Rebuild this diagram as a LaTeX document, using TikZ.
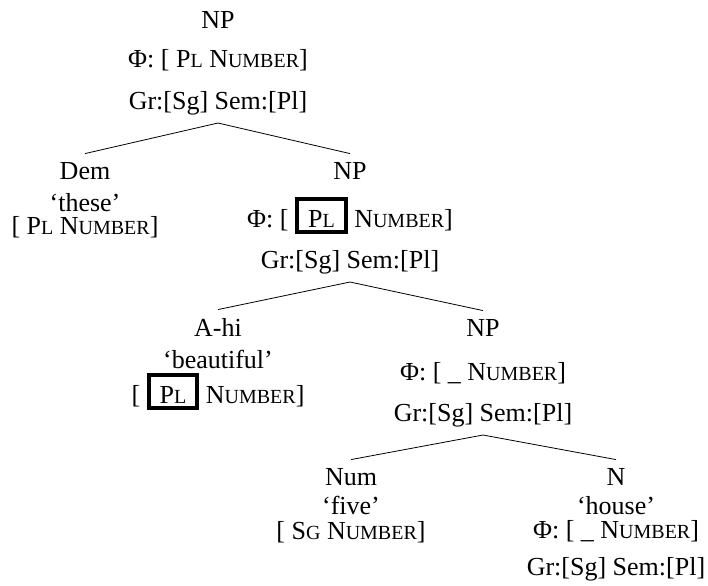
\documentclass[tikz,border=0pt]{standalone}
\usepackage{fontspec}
\setmainfont{Liberation Serif}
\newcommand\fsc[2]{#1{\fontsize{10}{12}\selectfont #2}}
\newcommand\pbox[1]{{\setlength\fboxrule{2pt}\setlength\fboxsep{0pt}\fbox{\rule[-1.5pt]{0pt}{14.5pt}\hspace{4.5pt}#1\hspace{4.5pt}}}}
\tikzset{lbl/.style={inner sep=4pt, anchor=base, font=\fontsize{13}{15}\selectfont}}

\begin{document}
\begin{tikzpicture}[x=0.5pt, y=-0.5pt]
	\useasboundingbox (0,0) rectangle (708,585);
	\node[lbl] (np1) at (218,28) {NP};
	\node[lbl] (np1phi) at (218,67) {Φ: [ \fsc{P}{L} \fsc{N}{UMBER}]};
	\node[lbl] (np1gr) at (218,109) {Gr:[Sg] Sem:[Pl]};
	\node[lbl] (dem) at (85,179) {Dem};
	\node[lbl] (demgl) at (85,211) {`these'};
	\node[lbl] (demft) at (85,234) {[ \fsc{P}{L} \fsc{N}{UMBER}]};
	\node[lbl] (np2) at (350,179) {NP};
	\node[lbl] (np2phi) at (350,227) {Φ: [ \pbox{\fsc{P}{L}} \fsc{N}{UMBER}]};
	\node[lbl] (np2gr) at (350,268) {Gr:[Sg] Sem:[Pl]};
	\node[lbl] (adj) at (218,336) {A-hi};
	\node[lbl] (adjgl) at (218,368) {`beautiful'};
	\node[lbl] (adjft) at (218,403) {[ \pbox{\fsc{P}{L}} \fsc{N}{UMBER}]};
	\node[lbl] (np3) at (483,336) {NP};
	\node[lbl] (np3phi) at (483,380) {Φ: [ \_ \fsc{N}{UMBER}]};
	\node[lbl] (np3gr) at (483,421) {Gr:[Sg] Sem:[Pl]};
	\node[lbl] (num) at (351,485) {Num};
	\node[lbl] (numgl) at (351,514) {`five'};
	\node[lbl] (numft) at (351,539) {[ \fsc{S}{G} \fsc{N}{UMBER}]};
	\node[lbl] (n) at (616,485) {N};
	\node[lbl] (ngl) at (616,514) {`house'};
	\node[lbl] (nphi) at (616,538) {Φ: [ \_ \fsc{N}{UMBER}]};
	\node[lbl] (ngr) at (616,575) {Gr:[Sg] Sem:[Pl]};
	\draw (np1gr.south) -- (dem.north);
	\draw (np1gr.south) -- (np2.north);
	\draw (np2gr.south) -- (adj.north);
	\draw (np2gr.south) -- (np3.north);
	\draw (np3gr.south) -- (num.north);
	\draw (np3gr.south) -- (n.north);
\end{tikzpicture}
\end{document}
